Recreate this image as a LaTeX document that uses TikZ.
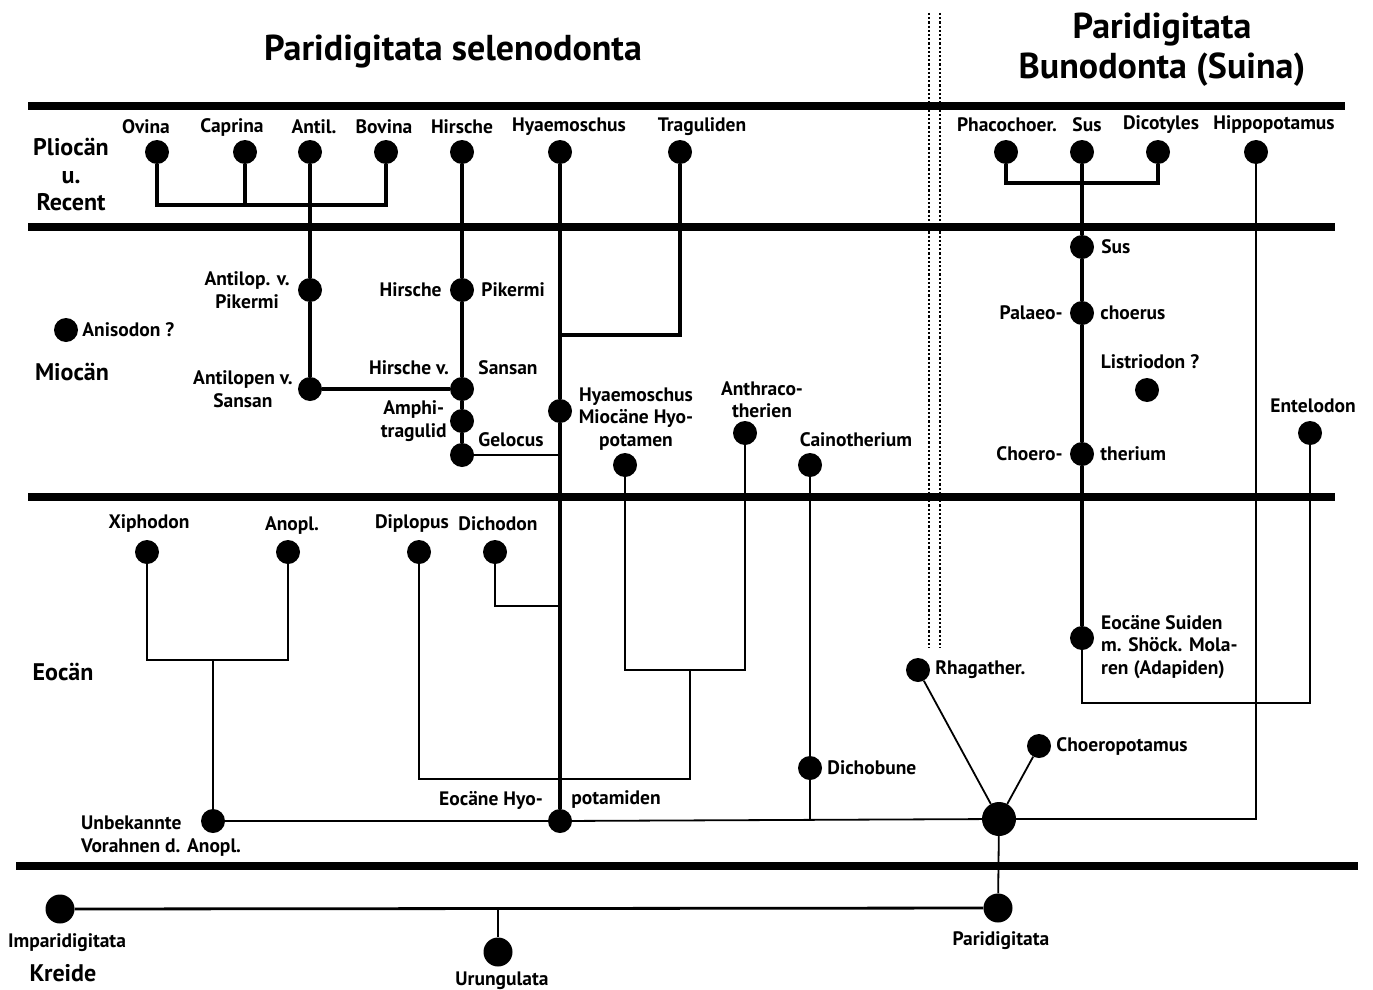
\documentclass[tikz,border=0pt]{standalone}
\usepackage{fontspec}
\setmainfont{PT Sans}
\usetikzlibrary{positioning}
\tikzset{
dot/.style={circle, fill, inner sep=0pt, minimum size=24pt},
bigdot/.style={circle, fill, inner sep=0pt, minimum size=34pt},
kdot/.style={circle, fill, inner sep=0pt, minimum size=29pt},
lbl/.style={font=\bfseries\fontsize{19.5}{22.5}\selectfont, inner sep=1pt, align=center},
era/.style={font=\bfseries\fontsize{24}{27.5}\selectfont, align=center},
heading/.style={font=\bfseries\fontsize{36}{40}\selectfont, align=center},
bar/.style={draw, line width=8pt},
stem/.style={draw, line width=3.5pt},
link/.style={draw, line width=1.8pt},
sepline/.style={draw, line width=2.6pt, dash pattern=on 2.2pt off 2pt}
}

\begin{document}
\begin{tikzpicture}[x=1pt, y=-1pt]
    \useasboundingbox (0,0) rectangle (1373,990);
    % Headings and epochs
    \node [heading] (ttlsel) at (453,52) {Paridigitata selenodonta};
    \node [heading] (ttlbun) at (1162,50) {Paridigitata\\Bunodonta (Suina)};
    \node [era] (plio) at (71,175) {Pliocän\\u.\\Recent};
    \node [era] (mio) at (72,372) {Miocän};
    \node [era] (eoc) at (63,672) {Eocän};
    \node [era] (kreide) at (63,973) {Kreide};
    % Epoch bars and separator
    \draw [bar] (28,106) -- (1345,106);
    \draw [bar] (28,227) -- (1335,227);
    \draw [bar] (28,497) -- (1335,497);
    \draw [bar] (16,866) -- (1358,866);
    \draw [sepline] (929,13) -- (929,648);
    \draw [sepline] (940,13) -- (940,648);

    % Place nodes: Pliocaen u. Recent
    \node [dot] (ovina) at (157,152) {};
    \node [dot] (caprina) at (245,152) {};
    \node [dot] (antil) at (310,152) {};
    \node [dot] (bovina) at (386,152) {};
    \node [dot] (hirsche) at (462,152) {};
    \node [dot] (hyaem) at (560,152) {};
    \node [dot] (tragul) at (680,152) {};
    \node [dot] (phaco) at (1006,152) {};
    \node [dot] (sus) at (1082,152) {};
    \node [dot] (dicot) at (1158,152) {};
    \node [dot] (hippo) at (1256,152) {};
    \node [lbl] (ovinalbl) at (146,127) {Ovina};
    \node [lbl] (caprinalbl) at (232,127) {Caprina};
    \node [lbl] (antillbl) at (314,127) {Antil.};
    \node [lbl] (bovinalbl) at (384,127) {Bovina};
    \node [lbl] (hirschelbl) at (462,127) {Hirsche};
    \node [lbl] (hyaemlbl) at (569,127) {Hyaemoschus};
    \node [lbl] (tragullbl) at (702,127) {Traguliden};
    \node [lbl] (phacolbl) at (1007,125) {Phacochoer.};
    \node [lbl] (suslbl) at (1087,125) {Sus};
    \node [lbl] (dicotlbl) at (1161,125) {Dicotyles};
    \node [lbl] (hippolbl) at (1274,125) {Hippopotamus};

    % Place nodes: Miocaen
    \node [dot] (anis) at (66,330) {};
    \node [dot] (antpik) at (310,290) {};
    \node [dot] (antsan) at (310,389) {};
    \node [dot] (hirpik) at (462,290) {};
    \node [dot] (hirsan) at (462,389) {};
    \node [dot] (amphi) at (462,421) {};
    \node [dot] (geloc) at (462,455) {};
    \node [dot] (hyamio) at (560,411) {};
    \node [dot] (hyopot) at (625,465) {};
    \node [dot] (anthra) at (745,433) {};
    \node [dot] (caino) at (810,465) {};
    \node [dot] (susmio) at (1082,247) {};
    \node [dot] (palaeo) at (1082,313) {};
    \node [dot] (listrio) at (1147,390) {};
    \node [dot] (choerot) at (1082,454) {};
    \node [dot] (entel) at (1310,433) {};
    \node [lbl, right=3pt of anis] (anislbl) {Anisodon ?};
    \node [lbl, left=7pt of antpik] (antpiklbl) {Antilop. v.\\Pikermi};
    \node [lbl, left=4pt of antsan] (antsanlbl) {Antilopen v.\\Sansan};
    \node [lbl, left=7pt of hirpik] (hirpiklbl) {Hirsche};
    \node [lbl, right=6pt of hirpik] (pikermilbl) {Pikermi};
    \node [lbl] (hirsanlbl) at (409,368) {Hirsche v.};
    \node [lbl] (sansanlbl) at (508,368) {Sansan};
    \node [lbl, left=2pt of amphi] (amphilbl) {Amphi-\\tragulid};
    \node [lbl] (geloclbl) at (511,440) {Gelocus};
    \node [lbl] (hyamiolbl) at (636,419) {Hyaemoschus\\Miocäne Hyo-\\potamen};
    \node [lbl] (anthralbl) at (762,400) {Anthraco-\\therien};
    \node [lbl] (cainolbl) at (856,440) {Cainotherium};
    \node [lbl, right=6pt of susmio] (susmiolbl) {Sus};
    \node [lbl, left=6pt of palaeo] (palaeolbl) {Palaeo-};
    \node [lbl, right=5pt of palaeo] (choeruslbl) {choerus};
    \node [lbl] (listriolbl) at (1150,362) {Listriodon ?};
    \node [lbl, left=6pt of choerot] (choerotlbl) {Choero-};
    \node [lbl, right=5pt of choerot] (theriumlbl) {therium};
    \node [lbl] (entellbl) at (1313,406) {Entelodon};

    % Place nodes: Eocaen
    \node [dot] (xipho) at (147,552) {};
    \node [dot] (anopl) at (288,552) {};
    \node [dot] (diplo) at (419,552) {};
    \node [dot] (dicho) at (495,552) {};
    \node [dot] (unbek) at (213,821) {};
    \node [dot] (hyoeoc) at (560,821) {};
    \node [dot] (dichob) at (810,768) {};
    \node [dot] (rhaga) at (918,670) {};
    \node [dot] (choerop) at (1039,746) {};
    \node [bigdot] (parieoc) at (999,819) {};
    \node [dot] (suideoc) at (1082,638) {};
    \node [lbl] (xipholbl) at (149,524) {Xiphodon};
    \node [lbl] (anopllbl) at (292,526) {Anopl.};
    \node [lbl] (diplolbl) at (412,524) {Diplopus};
    \node [lbl] (dicholbl) at (498,524) {Dichodon};
    \node [lbl, anchor=west, align=left] (unbeklbl) at (80,836) {Unbekannte\\Vorahnen d. Anopl.};
    \node [lbl] (hyoeoclbl) at (491,800) {Eocäne Hyo-};
    \node [lbl] (potamlbl) at (616,800) {potamiden};
    \node [lbl, right=4pt of dichob] (dichoblbl) {Dichobune};
    \node [lbl, right=4pt of rhaga] (rhagalbl) {Rhagather.};
    \node [lbl, right=4pt of choerop] (choeroplbl) {Choeropotamus};
    \node [lbl, anchor=west, align=left] (suideoclbl) at (1100,647) {Eocäne Suiden\\m. Shöck. Mola-\\ren (Adapiden)};

    % Place nodes: Kreide
    \node [kdot] (impari) at (60,909) {};
    \node [kdot] (urung) at (498,952) {};
    \node [kdot] (parid) at (998,908) {};
    \node [lbl] (imparilbl) at (67,943) {Imparidigitata};
    \node [lbl] (urunglbl) at (502,981) {Urungulata};
    \node [lbl] (paridlbl) at (1001,941) {Paridigitata};

    % Junctions
    \coordinate (bovj) at (245,205);
    \coordinate (gelj) at (560,455);
    \coordinate (tragj) at (560,335);
    \coordinate (phacj) at (1082,183);
    \coordinate (suidj) at (1082,703);
    \coordinate (xipj) at (213,660);
    \coordinate (dichj) at (560,606);
    \coordinate (anthj) at (690,670);
    \coordinate (hyoj) at (690,779);
    \coordinate (dichbj) at (810,821);
    \coordinate (urj) at (498,909);

    % Draw edges
    \path [stem] (ovina) |- (bovj) -| (bovina);
    \path [stem] (caprina) -- (bovj);
    \path [stem] (antil) -- (antpik) -- (antsan) -- (hirsan);
    \path [stem] (hirsche) -- (hirpik) -- (hirsan) -- (amphi) -- (geloc);
    \path [link] (geloc) -- (gelj);
    \path [stem] (tragul) |- (tragj);
    \path [stem] (hyaem) -- (hyamio) -- (hyoeoc);
    \path [stem] (phaco) |- (phacj) -| (dicot);
    \path [stem] (sus) -- (susmio) -- (palaeo) -- (choerot) -- (suideoc);
    \path [link] (suideoc) -- (suidj) -| (entel);
    \path [link] (xipho) |- (xipj) -| (anopl);
    \path [link] (xipj) -- (unbek);
    \path [link] (dicho) |- (dichj);
    \path [link] (hyopot) |- (anthj) -| (anthra);
    \path [link] (anthj) -- (hyoj) -| (diplo);
    \path [link] (caino) -- (dichob) -- (dichbj);
    \path [link] (unbek) -- (hyoeoc) -- (parieoc);
    \path [link] (hippo) |- (parieoc);
    \path [link] (rhaga) -- (parieoc);
    \path [link] (choerop) -- (parieoc);
    \path [link] (parieoc) -- (parid);
    \path [link, line width=2.8pt] (impari) -- (parid);
    \path [link] (urj) -- (urung);
\end{tikzpicture}
\end{document}
